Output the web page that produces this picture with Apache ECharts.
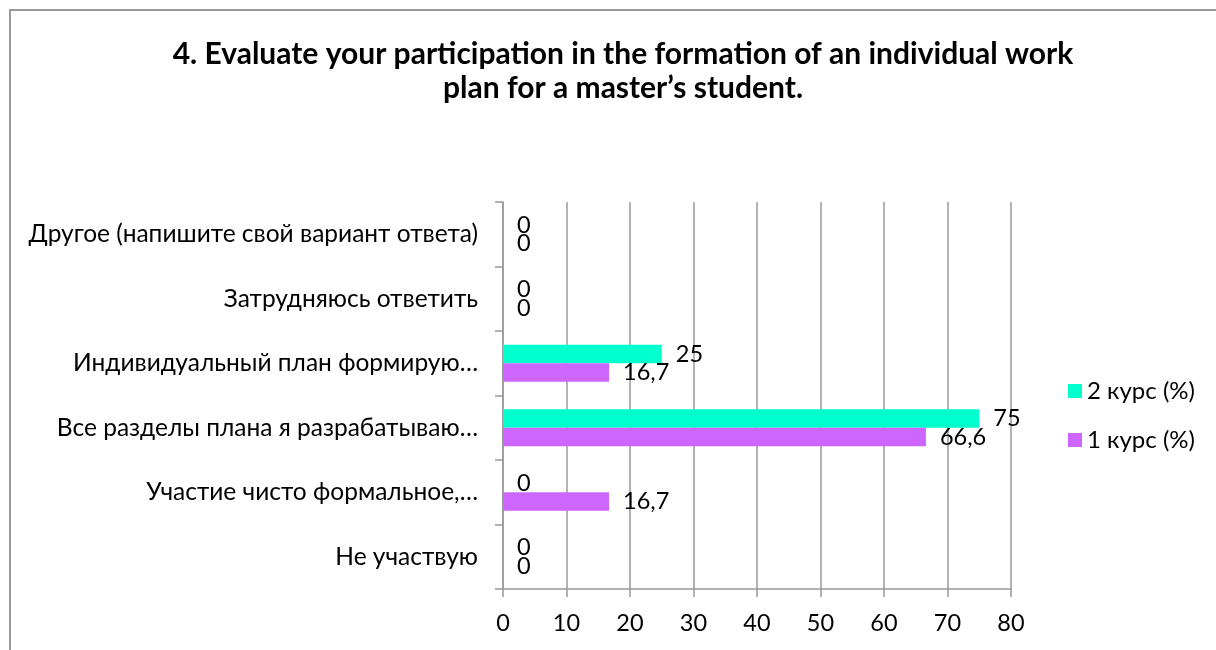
<!DOCTYPE html>
<html>
<head>
<meta charset="utf-8">
<script src="https://cdn.jsdelivr.net/npm/echarts@6/dist/echarts.min.js"></script>
<style>
html,body{margin:0;padding:0;background:#fff;}
#chart{width:1216px;height:650px;}
</style>
</head>
<body>
<div id="chart"></div>
<script>
var titleText = '4. Evaluate your participation in the formation of an individual work\nplan for a master\u2019s student.';
var categories = ['Не участвую','Участие чисто формальное,…','Все разделы плана я разрабатываю…','Индивидуальный план формирую…','Затрудняюсь ответить','Другое (напишите свой вариант ответа)'];
var seriesNames = ['2 курс (%)','1 курс (%)'];
var course2 = [0, 0, 75, 25, 0, 0];
var course1 = [0, 16.7, 66.6, 16.7, 0, 0];
var xTicks = [0, 80, 10];

var FONT = 'Lato, "Open Sans", sans-serif';
var chart = echarts.init(document.getElementById('chart'), null, {renderer:'canvas'});
function fmt(p){ return String(p.value).replace('.', ','); }
var labelCfg = {show:true, position:'right', distance:14, color:'#000', fontSize:23.5, fontFamily:FONT, formatter:fmt};
chart.setOption({
  animation:false,
  backgroundColor:'#fff',
  graphic:[{type:'rect', shape:{x:10, y:10, width:1230, height:680}, style:{fill:'none', stroke:'#999', lineWidth:2}, z:-1}],
  title:{text:titleText, left:618, top:32, textAlign:'center',
    textStyle:{fontFamily:FONT, fontWeight:'bold', fontSize:30, color:'#000', lineHeight:34}},
  legend:{orient:'vertical', left:1063, top:374, itemWidth:14, itemHeight:14, itemGap:25,
    data:[seriesNames[0], seriesNames[1]], icon:'rect',
    textStyle:{fontFamily:FONT, fontSize:24, color:'#000'}},
  grid:{left:503, right:205, top:202, bottom:61, containLabel:false},
  xAxis:{type:'value', min:xTicks[0], max:xTicks[1], interval:xTicks[2],
    axisLine:{show:true, lineStyle:{color:'#999', width:1.5}},
    axisTick:{show:true, length:8, lineStyle:{color:'#999', width:1.5}},
    axisLabel:{color:'#000', fontSize:23.5, fontFamily:FONT, margin:22},
    splitLine:{show:true, lineStyle:{color:'#999', width:1.5}}},
  yAxis:{type:'category', data:categories,
    axisLine:{show:true, lineStyle:{color:'#999', width:1.5}},
    axisTick:{show:true, length:8, lineStyle:{color:'#999', width:1.5}},
    axisLabel:{color:'#000', fontSize:24.5, fontFamily:FONT, margin:25},
    splitLine:{show:false}},
  series:[
    {name:seriesNames[0], type:'bar', data:course2, barWidth:18.5, barGap:'0%', itemStyle:{color:'#00FFCC'}, label:labelCfg},
    {name:seriesNames[1], type:'bar', data:course1, barWidth:18.5, barGap:'0%', itemStyle:{color:'#CC66FF'}, label:labelCfg}
  ]
});
</script>
</body>
</html>
